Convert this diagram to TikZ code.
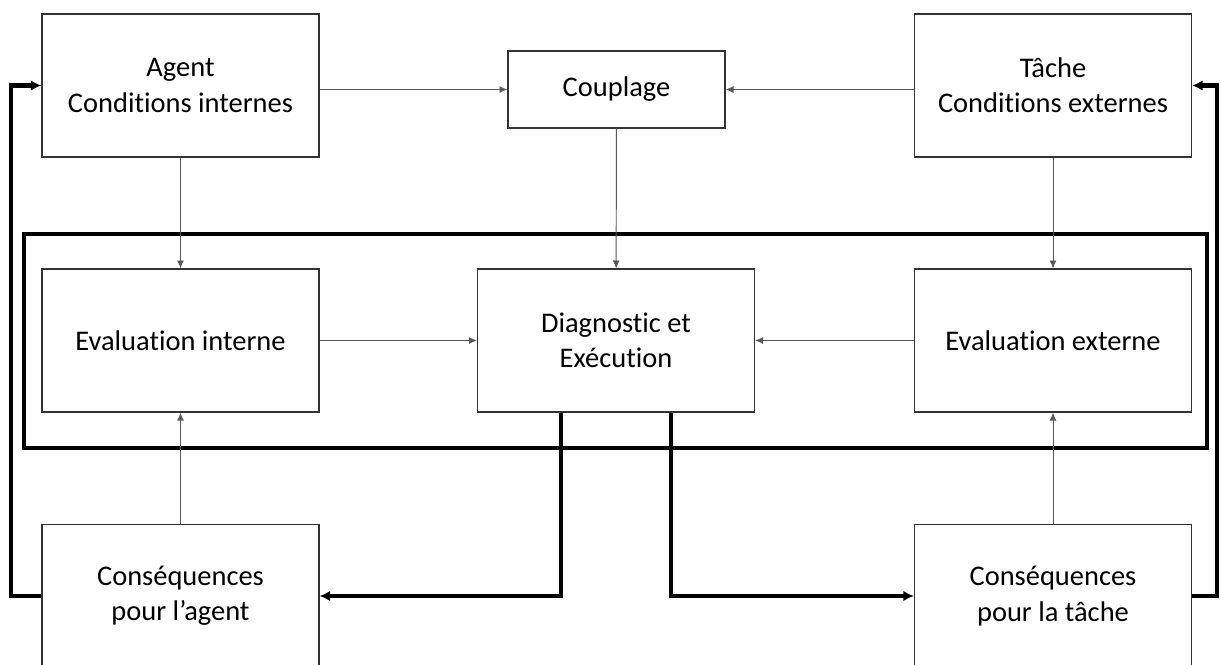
\documentclass[tikz,border=0pt]{standalone}
\usepackage{fontspec}
\setmainfont[Ligatures={NoCommon,NoContextual}]{Carlito}
\usetikzlibrary{arrows.meta}
\begin{document}
\begin{tikzpicture}[x=0.02cm,y=-0.02cm,
    box/.style={draw=black!80,line width=0.7pt,minimum width=5.54cm,minimum height=2.86cm,
        align=center,font=\fontsize{16.2}{20}\selectfont},
    link/.style={draw=black!65,line width=0.55pt,-{Latex[length=4.5pt,width=4pt]}},
    loop/.style={line width=2.3pt,-{Latex[length=6pt,width=6pt]}}]
    \useasboundingbox (0,0) rectangle (1221,664);
    \node[box] (A) at (180.5,85.5) {Agent\\Condit\kern0pt ions internes};
    \node[box,minimum width=4.34cm,minimum height=1.54cm] (C) at (616.5,89.5) {Couplage};
    \node[box] (T) at (1053,85.5) {Tâche\\Condit\kern0pt ions externes};
    \draw[line width=2.3pt] (24,234) rectangle (1207,448);
    \node[box] (EI) at (180.5,340.5) {Evaluat\kern0pt ion interne};
    \node[box] (D) at (616,340.5) {Diagnost\kern0pt ic et\\Exécut\kern0pt ion};
    \node[box] (EE) at (1053,340.5) {Evaluat\kern0pt ion externe};
    \node[box] (CA) at (180.5,596) {Conséquences\\pour l’agent};
    \node[box] (CT) at (1053,596) {Conséquences\\pour la tâche};
    \draw[link] (A.east |- C) -- (C);
    \draw[link] (T.west |- C) -- (C);
    \draw[link] (A) -- (EI);
    \draw[link] (C) -- (D);
    \draw[link] (T) -- (EE);
    \draw[link] (EI) -- (D);
    \draw[link] (EE) -- (D);
    \draw[link] (CA) -- (EI);
    \draw[link] (CT) -- (EE);
    \draw[loop] ([xshift=-1.1cm]D.south) |- (CA.east);
    \draw[loop] ([xshift=1.1cm]D.south) |- (CT.west);
    \draw[loop] (CA.west) -- ++(-30,0) |- (A.west);
    \draw[loop] (CT.east) -- ++(25,0) |- (T.east);
\end{tikzpicture}
\end{document}
